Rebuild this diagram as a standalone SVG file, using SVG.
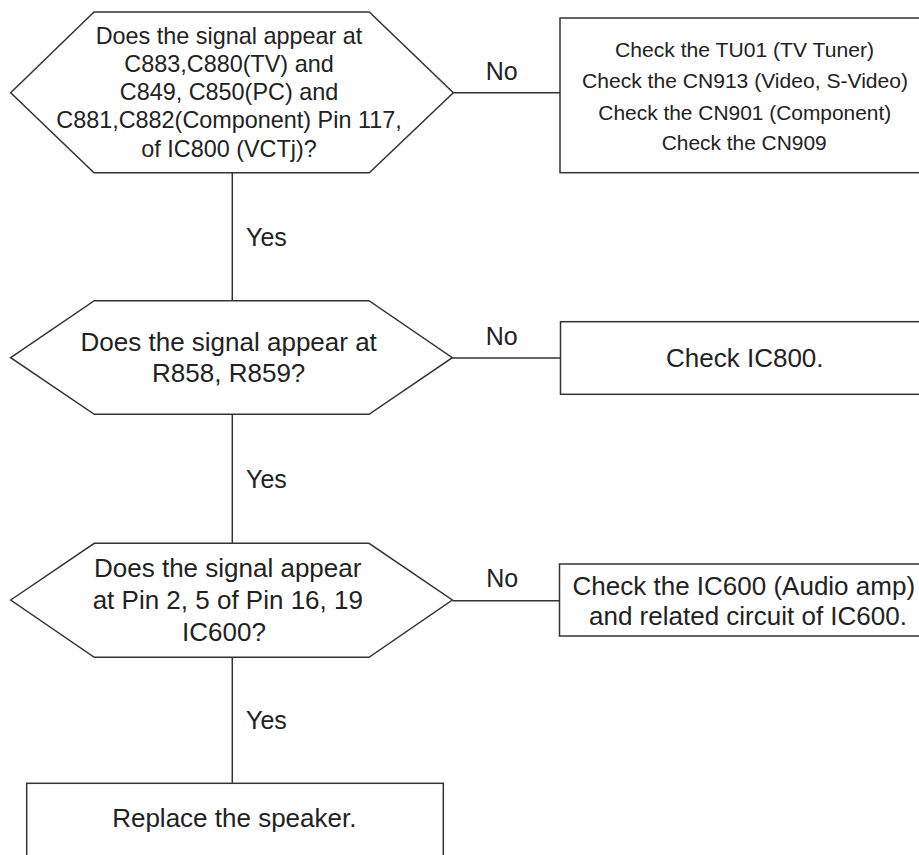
<svg xmlns="http://www.w3.org/2000/svg" width="919" height="855" viewBox="0 0 919 855">
<style>
.shape{fill:#fff;stroke:#333;stroke-width:1.5}
.conn line{stroke:#333;stroke-width:1.5}
text{font-family:"Liberation Sans",Arial,sans-serif;fill:#222;text-anchor:middle}
.lbl{text-anchor:start;font-size:25px}
.t1{font-size:23.4px}
.t2{font-size:26px}
.tc{font-size:21px}
</style>
<rect width="919" height="855" fill="#fff"/>
<g id="connectors" class="conn">
<line x1="232.3" y1="172.7" x2="232.3" y2="300.7"/>
<line x1="232.3" y1="414.3" x2="232.3" y2="543.3"/>
<line x1="232.3" y1="657.3" x2="232.3" y2="783.3"/>
<line x1="453.3" y1="92.7" x2="560" y2="92.7"/>
<line x1="452.3" y1="358" x2="560.5" y2="358"/>
<line x1="452.3" y1="600.7" x2="559.5" y2="600.7"/>
<text class="lbl" x="246" y="245.7">Yes</text>
<text class="lbl" x="246" y="488.3">Yes</text>
<text class="lbl" x="246" y="729">Yes</text>
<text class="lbl" x="485.7" y="80">No</text>
<text class="lbl" x="485.7" y="345">No</text>
<text class="lbl" x="486.3" y="586.7">No</text>
</g>
<g id="q1">
<path class="shape" d="M10.7,92.7 L94,12 L369.3,12 L453.3,92.7 L369.3,172.7 L94,172.7 Z"/>
<text class="t1" x="229" y="44">Does the signal appear at</text>
<text class="t1" x="229" y="71.7">C883,C880(TV) and</text>
<text class="t1" x="229" y="100">C849, C850(PC) and</text>
<text class="t1" x="229" y="128.3">C881,C882(Component) Pin 117,</text>
<text class="t1" x="229" y="156.7">of IC800 (VCTj)?</text>
</g>
<g id="a1">
<rect class="shape" x="560" y="18" width="380" height="154.7"/>
<text class="tc" x="744.5" y="56.7" textLength="259" lengthAdjust="spacingAndGlyphs">Check the TU01 (TV Tuner)</text>
<text class="tc" x="745" y="88.3" textLength="326" lengthAdjust="spacingAndGlyphs">Check the CN913 (Video, S-Video)</text>
<text class="tc" x="744.8" y="120" textLength="293" lengthAdjust="spacingAndGlyphs">Check the CN901 (Component)</text>
<text class="tc" x="744.2" y="150" textLength="165" lengthAdjust="spacingAndGlyphs">Check the CN909</text>
</g>
<g id="q2">
<path class="shape" d="M10.7,357.7 L94.3,300.7 L369,300.7 L452.3,357.7 L369,414.3 L94.3,414.3 Z"/>
<text class="t2" x="228.7" y="350.7">Does the signal appear at</text>
<text class="t2" x="228.7" y="381.7">R858, R859?</text>
</g>
<g id="a2">
<rect class="shape" x="560.5" y="321.7" width="380" height="72.6"/>
<text class="t2" x="744.8" y="367.3">Check IC800.</text>
</g>
<g id="q3">
<path class="shape" d="M10.7,600 L94.3,543.3 L369,543.3 L452.3,600 L369,657.3 L94.3,657.3 Z"/>
<text class="t2" x="227.7" y="576.7">Does the signal appear</text>
<text class="t2" x="227.8" y="609.3">at Pin 2, 5 of Pin 16, 19</text>
<text class="t2" x="224" y="640.7">IC600?</text>
</g>
<g id="a3">
<rect class="shape" x="559.5" y="564" width="380" height="72"/>
<text class="t2" x="743.8" y="595">Check the IC600 (Audio amp)</text>
<text class="t2" x="748" y="625">and related circuit of IC600.</text>
</g>
<g id="end">
<rect class="shape" x="26.7" y="783.3" width="416.6" height="100"/>
<text class="t2" x="234.3" y="826.7">Replace the speaker.</text>
</g>
</svg>
